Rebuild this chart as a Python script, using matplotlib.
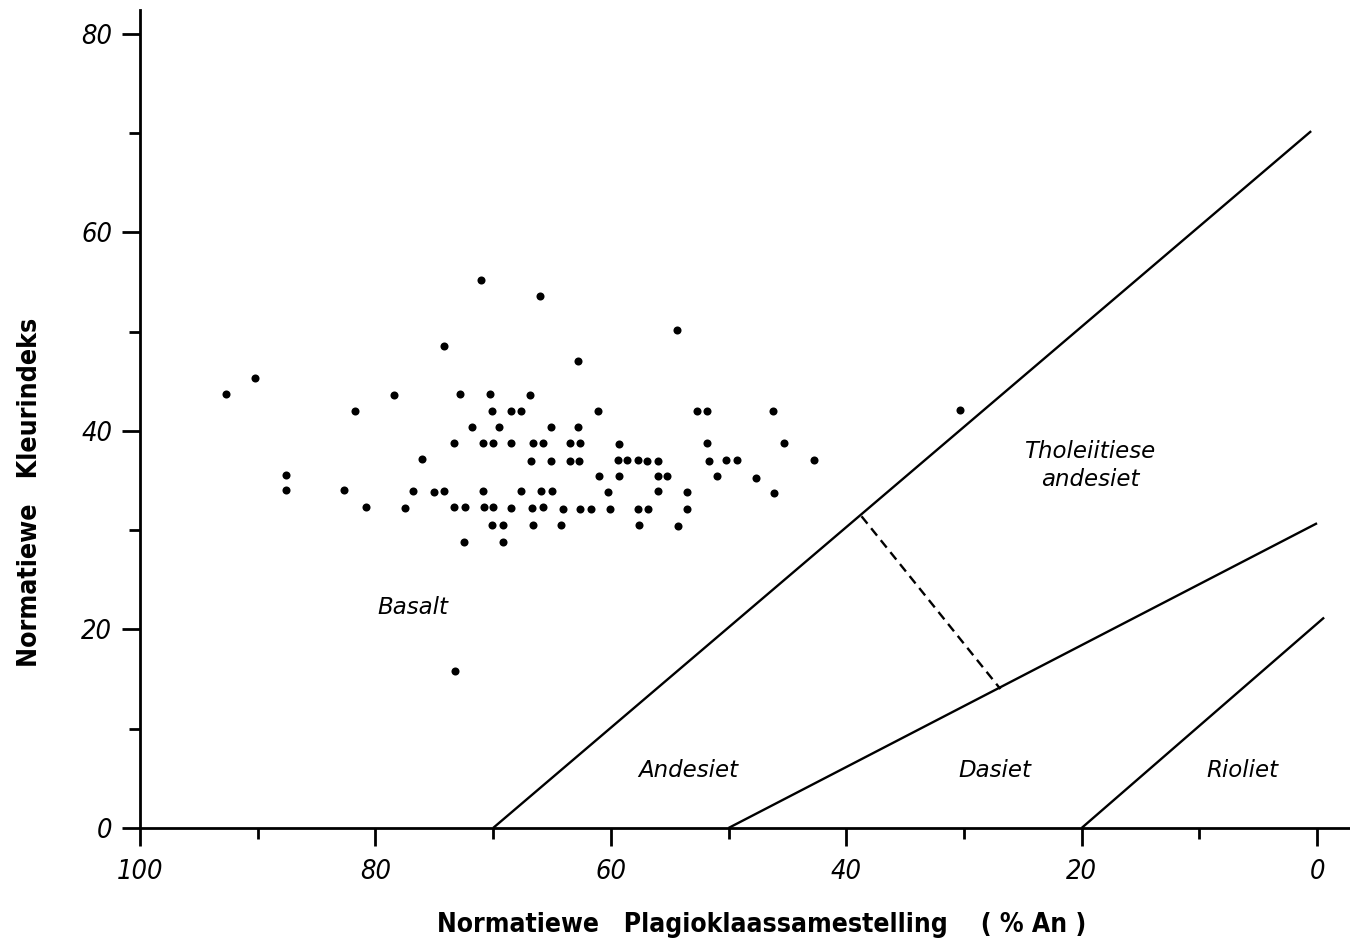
import matplotlib
matplotlib.use("Agg")
import matplotlib.pyplot as plt
from matplotlib import font_manager as fm
from matplotlib.ticker import MultipleLocator

# Normative plagioclase composition (% An) and normative colour index per sample
an_pct = [71.0, 74.2, 90.2, 92.7, 78.4, 72.8, 70.3, 81.7, 70.1, 71.8,
          69.5, 73.3, 70.9, 70.0, 76.0, 87.6, 87.6, 82.7, 76.8, 75.0,
          74.2, 70.9, 80.8, 77.5, 73.3, 72.4, 70.8, 70.0, 70.1, 72.5,
          66.0, 54.4, 62.8, 66.9, 68.5, 67.6, 61.1, 52.7, 51.8, 46.2,
          65.1, 62.8, 68.5, 66.6, 65.8, 63.5, 62.6, 59.3, 51.8, 45.3,
          66.8, 65.1, 63.5, 62.7, 59.4, 58.6, 57.7, 56.9, 56.0, 51.7,
          50.2, 49.3, 42.7, 61.0, 59.3, 56.0, 55.2, 51.0, 47.7, 67.6,
          65.9, 65.0, 60.2, 56.0, 53.5, 46.1, 68.5, 66.7, 65.8, 64.1,
          62.6, 61.7, 60.1, 57.7, 56.8, 53.5, 69.2, 66.6, 64.2, 57.6,
          54.3, 69.2, 73.2, 30.3]
colour_index = [55.2, 48.6, 45.3, 43.7, 43.6, 43.7, 43.7, 42.0, 42.0, 40.4,
                40.4, 38.8, 38.8, 38.8, 37.2, 35.6, 34.0, 34.0, 33.9, 33.8,
                33.9, 33.9, 32.3, 32.2, 32.3, 32.3, 32.3, 32.3, 30.5, 28.8,
                53.6, 50.2, 47.0, 43.6, 42.0, 42.0, 42.0, 42.0, 42.0, 42.0,
                40.4, 40.4, 38.8, 38.8, 38.8, 38.8, 38.8, 38.7, 38.8, 38.8,
                37.0, 37.0, 37.0, 37.0, 37.1, 37.1, 37.1, 37.0, 37.0, 37.0,
                37.1, 37.1, 37.1, 35.5, 35.5, 35.5, 35.5, 35.5, 35.3, 33.9,
                33.9, 33.9, 33.8, 33.9, 33.8, 33.7, 32.2, 32.2, 32.3, 32.1,
                32.1, 32.1, 32.1, 32.1, 32.1, 32.1, 30.5, 30.5, 30.5, 30.5,
                30.4, 28.8, 15.8, 42.1]

# Field boundaries: (An start, CI start) -> (An end, CI end)
boundary_andesite = [(70, 0), (0.5, 70.2)]
boundary_dacite = [(50, 0), (0, 30.7)]
boundary_rhyolite = [(20, 0), (-0.6, 21.2)]
boundary_tholeiitic = [(38.7, 31.4), (26.9, 14.0)]

# Field names and label positions (An, CI)
field_names = ["Basalt", "Andesiet", "Dasiet", "Rioliet", "Tholeiitiese\nandesiet"]
field_an = [76.8, 53.4, 27.4, 6.3, 19.3]
field_ci = [22.2, 5.8, 5.8, 5.8, 36.5]

x_ticks = [100, 80, 60, 40, 20, 0]
y_ticks = [0, 20, 40, 60, 80]

x_title = "Normatiewe   Plagioklaassamestelling    ( % An )"
y_title = "Normatiewe   Kleurindeks"


def narrow_font(bold, italic):
    """Pick a condensed sans face if one is installed, else DejaVu Sans."""
    best, best_score = None, -1
    for f in fm.fontManager.ttflist:
        path = f.fname.lower()
        cond = (str(f.stretch) in ("condensed", "semi-condensed",
                                   "extra-condensed", "ultra-condensed")
                or "condensed" in path or "narrow" in path)
        if not cond or "serif" in path and "sans" not in path:
            continue
        if "mono" in path:
            continue
        w = f.weight if isinstance(f.weight, int) else (700 if "bold" in str(f.weight) else 400)
        is_bold = w >= 600
        is_it = f.style in ("italic", "oblique")
        score = 10
        score += 5 if is_bold == bold else 0
        score += 5 if is_it == italic else 0
        if w > 800 or w < 300:
            score -= 3
        if score > best_score:
            best, best_score = f, score
    if best is not None:
        return fm.FontProperties(fname=best.fname)
    return fm.FontProperties(family="DejaVu Sans",
                             weight="bold" if bold else "normal",
                             style="italic" if italic else "normal")


tick_font = narrow_font(bold=False, italic=True)
title_font = narrow_font(bold=True, italic=False)

fig = plt.figure(figsize=(13.5, 9.49), dpi=100)
ax = fig.add_axes([140 / 1350, 121 / 949, 1210 / 1350, 818 / 949])

ax.set_xlim(100, -2.8)
ax.set_ylim(0, 82.4)

for seg, ls in [(boundary_andesite, "-"), (boundary_dacite, "-"),
                (boundary_rhyolite, "-"), (boundary_tholeiitic, (0, (4, 2.5)))]:
    (x0, y0), (x1, y1) = seg
    ax.plot([x0, x1], [y0, y1], color="black", lw=1.7, ls=ls,
            solid_capstyle="butt", clip_on=False)

ax.plot(an_pct, colour_index, "o", color="black", markersize=5.8,
        markeredgewidth=0, clip_on=False)

for name, xa, yc in zip(field_names, field_an, field_ci):
    ax.text(xa, yc, name, ha="center", va="center", style="italic",
            fontsize=16.5, family="DejaVu Sans", linespacing=1.25)

for side in ("top", "right"):
    ax.spines[side].set_visible(False)
for side in ("left", "bottom"):
    ax.spines[side].set_linewidth(2.0)

ax.set_xticks(x_ticks)
ax.set_yticks(y_ticks)
ax.xaxis.set_minor_locator(MultipleLocator(10))
ax.yaxis.set_minor_locator(MultipleLocator(10))
ax.tick_params(which="major", direction="out", length=13, width=2.0, pad=9)
ax.tick_params(which="minor", direction="out", length=8, width=2.0)
ax.tick_params(axis="y", which="major", pad=7)

for lab in ax.get_xticklabels() + ax.get_yticklabels():
    lab.set_fontproperties(tick_font)
    lab.set_fontsize(19.5)
    if tick_font.get_file() is None:
        lab.set_style("italic")

xt = fig.text(762 / 1350, 1 - 925 / 949, x_title, ha="center", va="center",
              fontproperties=title_font, fontsize=24)
yt = fig.text(30 / 1350, 1 - 492 / 949, y_title, ha="center", va="center",
              rotation=90, fontproperties=title_font, fontsize=21)

# fit the axis titles to their lettered lengths
renderer = fig.canvas.get_renderer()
for txt, target, horiz in [(xt, 650, True), (yt, 350, False)]:
    bb = txt.get_window_extent(renderer)
    size = bb.width if horiz else bb.height
    txt.set_fontsize(txt.get_fontsize() * target / size)

fig.savefig("out.png", dpi=100, facecolor="white")
